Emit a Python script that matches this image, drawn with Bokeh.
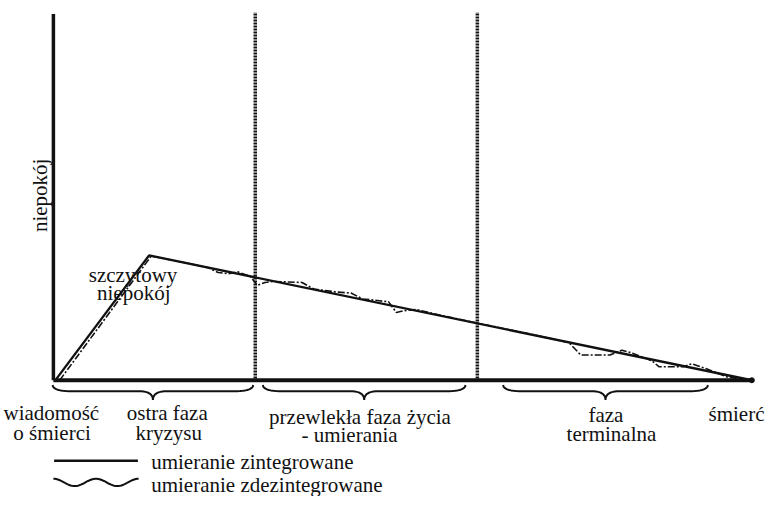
import numpy as np
from bokeh.plotting import figure
from bokeh.models import Range1d
from bokeh.core.properties import value
from bokeh.embed import file_html
from bokeh.resources import INLINE

# ---- data (conceptual units: time 0..100, anxiety 0..100) ----
integrated_t = [0.4, 13.7, 100.0]
integrated_a = [0.3, 34.1, 0.0]

disint_t = [0.9, 14.0, 19.1, 22.2, 23.6, 25.1, 26.4, 28.2, 29.2, 30.3, 31.4, 35.6,
            37.3, 40.5, 42.6, 44.3, 46.7, 48.0, 49.1, 50.2, 52.0, 55.5, 60.7,
            66.8, 73.1, 73.8, 75.5, 79.7, 81.4, 82.9, 85.7, 86.7, 90.2, 91.4,
            93.4, 96.6, 100.0]
disint_a = [0.0, 33.9, 32.0, 30.7, 29.4, 29.1, 29.6, 28.3, 25.9, 26.7, 27.0, 26.7,
            24.9, 24.1, 23.8, 22.2, 21.7, 21.4, 18.5, 19.0, 19.3, 17.7, 15.6,
            13.2, 10.6, 10.3, 6.9, 6.9, 8.2, 7.4, 5.3, 3.7, 3.7, 4.5,
            3.2, 0.8, 0.0]

phase_bounds = [28.9, 60.7]
brace_spans = [(-0.1, 28.6), (30.0, 59.0), (64.4, 93.7)]

phase_labels = [
    ("wiadomość", -0.3, -9.0), ("o śmierci", -0.2, -14.3),
    ("ostra faza", 16.3, -9.0), ("kryzysu", 16.5, -14.3),
    ("przewlekła faza życia", 43.9, -10.0), ("- umierania", 42.4, -15.0),
    ("faza", 79.1, -9.5), ("terminalna", 79.9, -14.8),
]
death_label = ("śmierć", 93.8, -9.3)
peak_label = [("szczytowy", 11.4, 28.8), ("niepokój", 11.5, 23.8)]
y_label = ("niepokój", -1.9, 50.5)
legend_labels = ["umieranie zintegrowane", "umieranie zdezintegrowane"]

INK = "#111111"
FONT = value("Liberation Serif")
FS = "21px"

p = figure(width=766, height=496, output_backend="svg", toolbar_location=None,
           x_range=Range1d(-7.574, 102.10), y_range=Range1d(-31.75, 103.70),
           min_border=0)
p.axis.visible = False
p.grid.visible = False
p.outline_line_color = None
p.background_fill_color = "white"
p.border_fill_color = "white"

# axes
p.line([0, 0], [0, 100], line_color=INK, line_width=3.5)
p.line([0, 100], [0, 0], line_color=INK, line_width=4)
p.scatter([100], [0], size=5, color=INK)

# phase boundaries
for b in phase_bounds:
    p.line([b, b], [0.5, 100.5], line_color=INK, line_width=3.5, line_dash="2 1")

# curves
p.line(integrated_t, integrated_a, line_color=INK, line_width=2.4)
p.line(disint_t, disint_a, line_color=INK, line_width=1.6, line_dash="7 2 2 2")

# braces
def quad(p0, p1, p2, n=12):
    t = np.linspace(0, 1, n)
    x = (1 - t) ** 2 * p0[0] + 2 * (1 - t) * t * p1[0] + t ** 2 * p2[0]
    y = (1 - t) ** 2 * p0[1] + 2 * (1 - t) * t * p1[1] + t ** 2 * p2[1]
    return list(x), list(y)

def brace(a, b, y0=-1.3, y1=-3.0, y2=-5.4, d=2.8, dt=2.0):
    c = (a + b) / 2
    xs, ys = [], []
    for seg in [quad((a, y0), (a, y1), (a + d, y1)),
                quad((c - dt, y1), (c, y1), (c, y2)),
                quad((c, y2), (c, y1), (c + dt, y1)),
                quad((b - d, y1), (b, y1), (b, y0))]:
        xs += seg[0]
        ys += seg[1]
    return xs, ys

for a, b in brace_spans:
    bx, by = brace(a, b)
    p.line(bx, by, line_color=INK, line_width=2)

# texts
for txt, x, y in phase_labels:
    p.text([x], [y], text=[txt], text_align="center", text_baseline="alphabetic",
           text_font=FONT, text_font_size=FS, text_color=INK)
p.text([death_label[1]], [death_label[2]], text=[death_label[0]], text_align="left",
       text_baseline="alphabetic", text_font=FONT, text_font_size=FS, text_color=INK)
for txt, x, y in peak_label:
    p.text([x], [y], text=[txt], text_align="center", text_baseline="alphabetic",
           text_font=FONT, text_font_size=FS, text_color=INK)
p.text([y_label[1]], [y_label[2]], text=[y_label[0]], angle=np.pi / 2,
       text_align="center", text_baseline="alphabetic", text_font=FONT,
       text_font_size=FS, text_color=INK)

# legend
p.line([0.1, 12.1], [-22.0, -22.0], line_color=INK, line_width=2.4)
wx = np.linspace(0.0, 12.2, 60)
wy = -27.9 + 1.0 * np.sin((wx / 12.2) * 4 * np.pi + np.pi / 2)
p.line(list(wx), list(wy), line_color=INK, line_width=2)
p.text([14.0], [-22.4], text=[legend_labels[0]], text_align="left",
       text_baseline="alphabetic", text_font=FONT, text_font_size=FS, text_color=INK)
p.text([14.0], [-28.7], text=[legend_labels[1]], text_align="left",
       text_baseline="alphabetic", text_font=FONT, text_font_size=FS, text_color=INK)

open("out.html", "w").write(file_html(p, INLINE))
